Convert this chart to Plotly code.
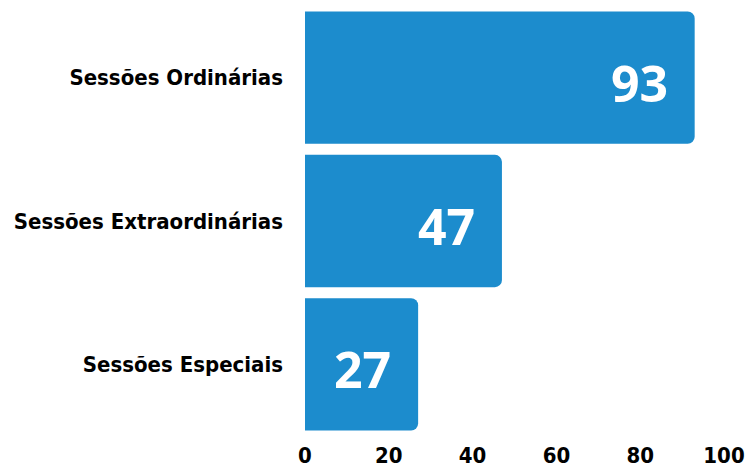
import plotly.graph_objects as go

categories = ["Sessões Ordinárias", "Sessões Extraordinárias", "Sessões Especiais"]
values = [93, 47, 27]
x_ticks = [0, 20, 40, 60, 80, 100]

cond_font = "DejaVu Sans Condensed, Liberation Sans Narrow, Open Sans"
bar_color = "#1c8ccd"

fig = go.Figure(go.Bar(
    x=values, y=categories, orientation="h",
    marker=dict(color=bar_color, line=dict(width=0)),
    hoverinfo="skip",
))

for c, v in zip(categories, values):
    fig.add_annotation(x=v, y=c, text=str(v), showarrow=False, xanchor="right",
                       xshift=-25, yshift=-5,
                       font=dict(family="Open Sans", size=50, color="white", weight="bold"))

fig.update_layout(
    width=749, height=470,
    margin=dict(l=305, r=25, t=6, b=34, autoexpand=False),
    paper_bgcolor="white", plot_bgcolor="white",
    bargap=0.077, barcornerradius=7,
    showlegend=False,
)
fig.update_xaxes(range=[0, 100], tickvals=x_ticks, showgrid=False, zeroline=False,
                 showline=False, ticks="", automargin=False, ticklabelstandoff=4,
                 tickfont=dict(family=cond_font, size=22, color="black", weight="bold"))
fig.update_yaxes(autorange="reversed", showgrid=False, showline=False, ticks="",
                 automargin=False, ticklabelstandoff=21,
                 tickfont=dict(family=cond_font, size=22, color="black", weight="bold"))

fig.write_html("out.html", config={"displayModeBar": False, "staticPlot": True},
               post_script="document.body.style.margin='0';document.body.style.overflow='hidden';")
